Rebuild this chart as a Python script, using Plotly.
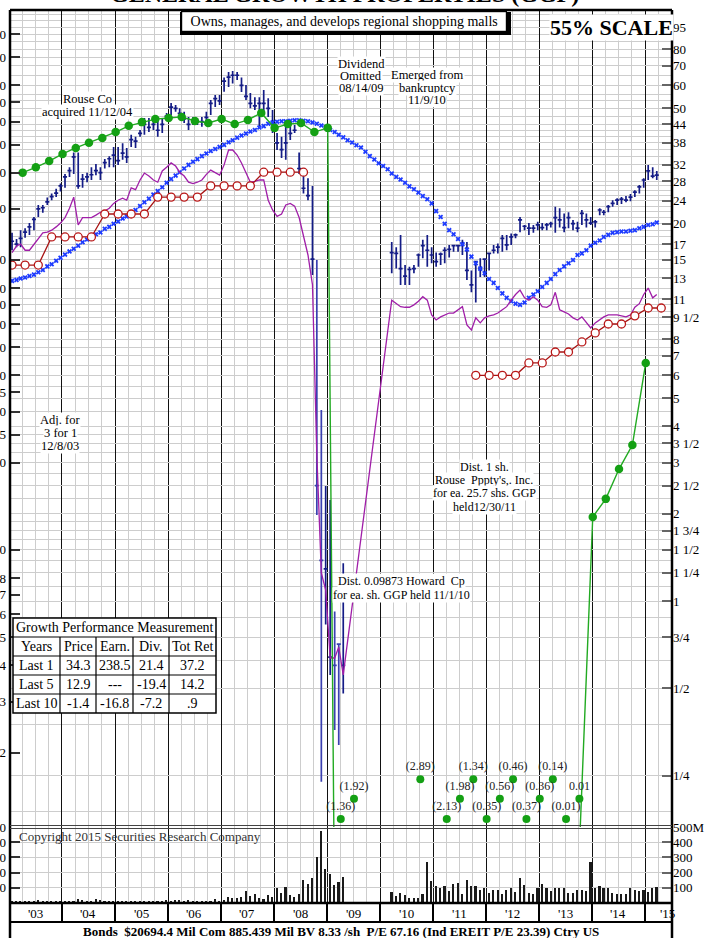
import datetime as dt
import plotly.graph_objects as go

SERIF = "Liberation Serif"

# ---------------- monthly price bars (Jan 2003 .. Mar 2015), None = no trading data shown
PRICE_HIGH = [
    18.6, 17.7, 19.0, 19.3, 20.1, 21.1, 23.2, 23.2, 24.6, 25.4,
    26.4, 27.5, 29.7, 31.3, 35.2, 35.2, 29.7, 30.0, 31.3, 32.1,
    31.3, 33.4, 34.2, 36.8, 36.8, 37.9, 36.5, 40.5, 39.9, 42.1,
    46.3, 46.3, 46.7, 45.6, 46.3, 48.2, 52.1, 51.3, 50.0, 48.6,
    46.7, 46.7, 46.3, 46.7, 48.6, 53.4, 55.6, 55.6, 63.9, 66.7,
    67.2, 66.7, 63.9, 60.1, 56.4, 54.6, 54.6, 57.8, 54.2, 49.3,
    41.1, 39.9, 43.2, 44.5, 43.8, 35.2, 29.7, 28.7, 27.0, 15.0,
    4.56, 2.49, 2.23, 0.92, 0.71, 1.35,
    None, None, None, None, None, None, None, None, None, None,
    17.3, 16.6, 18.3, 14.4, 14.2, 14.4, 15.8, 17.6, 18.3, 16.6,
    15.9, 15.9, 16.6, 16.9, 16.9, 16.9, 17.6, 17.3, 13.8, 14.8,
    15.2, 15.2, 15.9, 16.9, 17.1, 18.3, 18.3, 18.5, 18.5, 21.1,
    19.8, 20.1, 19.8, 20.3, 20.1, 20.1, 20.3, 22.9, 22.6, 21.7,
    21.9, 20.6, 20.3, 22.3, 21.7, 21.1, 20.6, 22.6, 22.3, 23.2,
    24.1, 24.5, 24.7, 24.9, 25.3, 26.1, 27.2, 28.7, 31.9, 31.3, 30.4,
]
PRICE_LOW = [
    16.2, 16.6, 16.6, 17.9, 18.3, 19.0, 21.1, 21.8, 23.2, 24.1,
    24.7, 25.8, 26.6, 29.0, 29.7, 26.4, 26.6, 27.8, 28.3, 29.4,
    28.3, 31.0, 31.3, 31.3, 31.9, 33.2, 32.4, 36.8, 36.5, 39.9,
    40.5, 41.4, 42.1, 39.9, 41.1, 45.6, 47.4, 48.6, 47.4, 44.5,
    42.1, 43.8, 43.8, 43.2, 44.5, 47.4, 50.5, 51.3, 57.0, 59.2,
    60.9, 62.6, 56.9, 53.4, 50.0, 49.3, 43.2, 48.2, 46.7, 41.1,
    35.9, 33.7, 33.2, 38.9, 41.1, 29.7, 25.4, 24.1, 13.3, 1.98,
    0.238, 0.83, 0.556, 0.359, 0.319, 0.48,
    None, None, None, None, None, None, None, None, None, None,
    13.5, 14.0, 12.3, 12.3, 12.3, 13.5, 14.2, 15.2, 14.2, 14.6,
    14.2, 14.4, 14.6, 15.3, 16.0, 16.0, 15.6, 12.8, 11.6, 10.7,
    13.1, 13.1, 13.8, 15.8, 15.8, 16.0, 16.2, 16.9, 17.8, 18.7,
    19.0, 18.3, 18.6, 19.0, 19.0, 19.0, 19.4, 18.6, 19.4, 18.7,
    19.3, 19.0, 18.7, 19.8, 19.4, 19.8, 19.4, 21.4, 21.4, 21.9,
    22.9, 23.2, 23.4, 23.7, 23.9, 24.7, 25.4, 26.6, 28.3, 28.7, 28.3,
]
PRICE_CLOSE = [
    17.4, 17.0, 17.8, 18.7, 19.5, 20.7, 22.5, 22.7, 23.8, 24.8,
    25.5, 27.0, 29.0, 30.5, 34.0, 27.0, 28.5, 29.0, 29.5, 30.5,
    30.0, 32.5, 33.5, 34.5, 33.0, 35.0, 34.0, 39.0, 38.5, 41.0,
    44.0, 43.0, 44.0, 42.0, 44.0, 47.0, 50.5, 50.0, 48.0, 46.0,
    44.0, 45.0, 45.0, 45.0, 46.5, 52.0, 54.0, 53.0, 62.0, 64.0,
    65.0, 65.0, 60.0, 55.0, 52.0, 51.0, 52.0, 52.0, 50.0, 44.0,
    38.0, 36.0, 38.0, 41.0, 42.0, 31.0, 26.5, 25.0, 15.1, 2.5,
    1.38, 1.29, 0.64, 0.60, 0.71, 0.60,
    None, None, None, None, None, None, None, None, None, None,
    15.9, 15.8, 14.0, 13.2, 13.9, 14.0, 15.6, 16.8, 16.2, 15.6,
    14.8, 15.7, 16.2, 16.3, 16.8, 16.8, 17.1, 13.8, 12.3, 14.8,
    14.0, 15.1, 15.8, 16.2, 16.6, 17.8, 16.9, 18.0, 18.3, 20.6,
    19.6, 19.3, 19.3, 19.8, 19.4, 19.8, 20.0, 21.0, 20.6, 19.4,
    21.0, 20.0, 19.3, 21.7, 20.6, 20.1, 20.3, 22.3, 21.9, 22.9,
    23.5, 24.1, 24.3, 24.1, 24.7, 25.7, 26.8, 28.3, 30.4, 29.2, 29.4,
]
# months drawn in the lighter blue during the 2008-09 collapse
LIGHT_BAR_MONTHS = [69, 70, 73, 74]
# monthly moving average (blue x markers)
MOVING_AVG = [
    12.7, 12.8, 12.95, 13.05, 13.2, 13.35, 13.6, 13.85, 14.25, 14.5,
    14.9, 15.25, 15.65, 16.05, 16.4, 16.8, 17.25, 17.65, 18.0, 18.4,
    18.65, 19.2, 19.5, 20.0, 20.35, 20.85, 21.2, 21.8, 22.3, 23.0,
    23.7, 24.4, 25.2, 25.9, 26.7, 27.7, 28.5, 29.3, 30.1, 31.0,
    31.9, 32.7, 33.4, 34.2, 34.9, 35.6, 36.2, 36.8, 37.4, 38.2,
    38.8, 39.6, 40.3, 40.9, 41.6, 42.1, 42.9, 43.4, 44.2, 44.7,
    44.9, 45.1, 45.1, 45.3, 45.5, 45.5, 45.3, 45.1, 44.7, 44.2,
    43.6, 43.1, 42.1, 41.4, 40.5, 39.7, 38.8, 38.1, 37.3, 36.6,
    35.4, 34.2, 33.3, 32.3, 31.6, 30.8, 29.8, 29.0, 28.4, 27.7,
    26.9, 26.3, 25.6, 24.9, 24.3, 23.5, 22.1, 21.1, 20.0, 19.0,
    18.4, 17.7, 17.0, 16.3, 15.4, 14.6, 14.0, 13.5, 12.9, 12.5,
    12.0, 11.5, 11.1, 10.8, 10.6, 10.5, 10.7, 11.1, 11.4, 11.7,
    12.1, 12.5, 12.9, 13.4, 13.85, 14.25, 14.6, 15.0, 15.6, 15.8,
    16.2, 16.8, 17.2, 17.5, 18.0, 18.3, 18.6, 18.7, 18.8, 18.8,
    18.9, 19.0, 19.3, 19.5, 19.8, 19.9, 20.2,
]
# monthly relative strength line (purple)
REL_STRENGTH = [
    15.9, 16.75, 17.0, 16.2, 16.2, 17.0, 17.9, 18.6, 18.7, 19.0,
    19.5, 20.1, 21.0, 22.6, 24.7, 19.8, 21.0, 21.0, 21.0, 21.4,
    21.9, 22.1, 22.6, 23.5, 24.1, 24.5, 24.1, 26.6, 26.2, 28.3,
    29.9, 29.2, 28.3, 27.8, 30.4, 31.3, 32.4, 31.6, 30.1, 29.2,
    27.8, 27.5, 27.8, 28.3, 29.6, 30.6, 29.9, 29.4, 31.9, 35.9,
    35.9, 34.5, 32.4, 30.1, 27.8, 28.0, 28.3, 28.3, 24.1, 22.3,
    21.2, 21.6, 23.2, 23.5, 23.0, 21.0, 17.9, 15.6, 12.3, 3.19,
    1.25, 1.09, 0.636, 0.636, 0.694, 0.556,
    None, None, None, None, None, None, None, None, None, None,
    10.9, 10.65, 10.35, 10.3, 10.3, 10.5, 10.8, 11.2, 10.9, 9.69,
    9.31, 9.54, 9.69, 9.84, 9.84, 10.1, 10.35, 8.95, 8.6, 9.47,
    9.1, 9.47, 9.62, 9.69, 9.84, 10.1, 10.35, 10.9, 11.4, 11.8,
    11.1, 10.9, 11.2, 10.9, 10.35, 10.3, 10.5, 11.6, 10.1, 9.93,
    9.77, 9.47, 9.31, 9.54, 9.1, 8.74, 9.1, 9.31, 9.54, 9.69,
    9.69, 9.69, 9.62, 9.54, 9.69, 10.3, 10.6, 11.4, 12.0, 11.1, 11.4,
]
# monthly volume, millions of shares
VOLUME_M = [
    16, 11, 11, 11, 7, 11, 20, 7, 7, 11,
    7, 7, 7, 7, 11, 29, 20, 11, 11, 24,
    18, 11, 7, 11, 11, 7, 7, 16, 11, 11,
    11, 16, 16, 16, 11, 18, 16, 20, 20, 16,
    20, 11, 16, 11, 11, 16, 29, 16, 20, 38,
    33, 33, 42, 82, 47, 60, 33, 29, 51, 42,
    100, 69, 104, 51, 38, 56, 151, 127, 162, 304,
    471, 222, 189, 116, 140, 171,
    None, None, None, None, None, None, None, None, None, None,
    73, 44, 67, 51, 33, 33, 33, 62, 269, 144,
    111, 100, 111, 78, 122, 129, 58, 151, 111, 111,
    84, 100, 67, 84, 84, 56, 84, 96, 73, 164,
    118, 67, 62, 100, 122, 100, 78, 96, 96, 96,
    67, 67, 84, 84, 78, 267, 96, 111, 102, 102,
    67, 62, 62, 58, 96, 84, 78, 84, 73, 102, 107,
]
# quarterly dividend line (red open circles), Jan 2003 .. Apr 2015
DIVIDEND_LINE = [
    14.4, 14.4, 14.4, 18.0, 18.0, 18.0, 18.0, 21.6, 21.6, 21.6,
    21.6, 24.7, 24.7, 24.7, 24.7, 27.0, 27.0, 27.0, 27.0, 30.1,
    30.1, 30.1, 30.1,
    None, None, None, None, None, None, None, None, None, None, None, None,
    6.0, 6.0, 6.0, 6.0, 6.62, 6.62, 7.22, 7.22, 7.82, 8.40,
    9.02, 9.02, 9.62, 10.24, 10.24,
]
# quarterly earnings line (green dots); values far below the scale plunge off the chart
EARNINGS_LINE = [
    30.0, 31.3, 32.9, 34.8, 36.5, 38.0, 39.5, 41.4, 43.5, 44.8,
    45.9, 46.3, 46.7, 45.2, 44.5, 45.9, 44.1, 45.6, 48.2, 42.8,
    44.1, 44.5, 41.4, 42.8,
    0.0003,
    None, None, None, None, None, None, None, None, None, None,
    None, None, None, None, None, None, None,
    0.14, 1.95, 2.25, 2.85, 3.45, 6.62,
]
# quarterly earnings labels printed near the bottom of the price pane
EARN_LABEL_Q = [24, 25, 30, 32, 33, 34, 35, 36, 37, 38, 39, 40, 41, 42]
EARN_LABEL_TEXT = ["(1.36)", "(1.92)", "(2.89)", "(2.13)", "(1.98)", "(1.34)", "(0.35)",
                   "(0.56)", "(0.46)", "(0.37)", "(0.36)", "(0.14)", "(0.01)", "0.01"]
EARN_LABEL_LEVEL = [0.177, 0.208, 0.243, 0.177, 0.208, 0.243, 0.177,
                    0.208, 0.243, 0.177, 0.208, 0.243, 0.177, 0.208]

RIGHT_TICK_VALS = [95, 80, 70, 60, 50, 44, 38, 32, 28, 24, 20, 17, 15, 13, 11, 9.5, 8, 7, 6,
                   5, 4, 3.5, 3, 2.5, 2, 1.75, 1.5, 1.25, 1, 0.75, 0.5, 0.25]
RIGHT_TICK_TEXT = ["95", "80", "70", "60", "50", "44", "38", "32", "28", "24", "20", "17", "15",
                   "13", "11", "9 1/2", "8", "7", "6", "5", "4", "3 1/2", "3", "2 1/2", "2",
                   "1 3/4", "1 1/2", "1 1/4", "1", "3/4", "1/2", "1/4"]
LEFT_TICK_VALS = [600, 500, 400, 350, 300, 250, 200, 150, 100, 80, 70, 60, 50, 40, 35, 30,
                  25, 20, 10, 8, 7, 6, 5, 4, 3, 2]
GRID_VALS = [105, 100, 95, 90, 85, 80, 75, 70, 65, 60, 56, 53, 50, 47, 44, 42, 40, 38, 36,
             34, 32, 30, 28, 27, 26, 25, 24, 23, 22, 21, 20, 19, 18, 17, 16, 15, 14, 13, 12,
             11, 10.5, 10, 9.5, 9, 8.5, 8, 7.5, 7, 6.5, 6, 5.5, 5, 4.5, 4, 3.75, 3.5, 3.25,
             3, 2.75, 2.5, 2.25, 2, 1.875, 1.75, 1.625, 1.5, 1.375, 1.25, 1.125, 1, 0.875,
             0.75, 0.625, 0.5, 0.375, 0.25, 0.1875]
VOL_TICK_VALS = [100, 200, 300, 400, 500]
VOL_TICK_TEXT_R = ["100", "200", "300", "400", "500M"]
VOL_TICK_TEXT_L = ["100", "200", "300", "400", "500"]
YEAR_LABELS = ["'03", "'04", "'05", "'06", "'07", "'08", "'09", "'10", "'11", "'12",
               "'13", "'14", "'15"]
YEAR_LABEL_DATES = [dt.date(y, 7, 1) for y in range(2003, 2015)] + [dt.date(2015, 6, 7)]
TABLE_TITLE = "Growth Performance Measurement"
TABLE_HEAD = ["Years", "Price", "Earn.", "Div.", "Tot Ret"]
TABLE_ROWS = [["Last 1", "34.3", "238.5", "21.4", "37.2"],
              ["Last 5", "12.9", "---", "-19.4", "14.2"],
              ["Last 10", "-1.4", "-16.8", "-7.2", ".9"]]

for arr in (PRICE_HIGH, PRICE_LOW, PRICE_CLOSE, MOVING_AVG, REL_STRENGTH, VOLUME_M):
    if len(arr) != 147:
        raise ValueError("monthly series length %d" % len(arr))
if len(DIVIDEND_LINE) != 50 or len(EARNINGS_LINE) != 48:
    raise ValueError("quarterly length %d %d" % (len(DIVIDEND_LINE), len(EARNINGS_LINE)))


def month_date(m, day=22):
    return dt.date(2003 + m // 12, m % 12 + 1, day)


MONTHS = [month_date(i) for i in range(147)]
DIV_DATES = [month_date(3 * q) for q in range(len(DIVIDEND_LINE))]
EARN_DATES = [month_date(3 * k + 3, 5) for k in range(len(EARNINGS_LINE))]
LABEL_DATES = [EARN_DATES[k] for k in EARN_LABEL_Q]
YEAR_STARTS = [dt.date(y, 1, 1) for y in range(2004, 2016)]
X_RANGE = ["2003-01-08", "2015-07-05"]
PRICE_LOG_RANGE = [-0.7793, 2.0379]

NAVY = "#141c86"
LIGHT_NAVY = "#3a3fb0"
fig = go.Figure()

# volume
fig.add_trace(go.Bar(x=MONTHS, y=VOLUME_M, xaxis="x2", yaxis="y2",
                     marker=dict(color="#1a1a1a", line=dict(width=0)),
                     width=11 * 86400000, hoverinfo="skip"))
# moving average
fig.add_trace(go.Scatter(x=MONTHS, y=MOVING_AVG, mode="markers", xaxis="x", yaxis="y",
                         marker=dict(symbol="x", size=4.5, color="#1e3cff", line=dict(width=0)),
                         hoverinfo="skip"))
# relative strength
fig.add_trace(go.Scatter(x=MONTHS, y=REL_STRENGTH, mode="lines", connectgaps=True,
                         line=dict(color="#a01ea8", width=1.3), hoverinfo="skip"))
# dividends
fig.add_trace(go.Scatter(x=DIV_DATES, y=DIVIDEND_LINE, mode="lines+markers", connectgaps=False,
                         line=dict(color="#a81414", width=1.3),
                         marker=dict(symbol="circle", size=8, color="white",
                                     line=dict(color="#b81818", width=1.3)),
                         hoverinfo="skip"))
# earnings
fig.add_trace(go.Scatter(x=EARN_DATES, y=EARNINGS_LINE, mode="lines+markers", connectgaps=False,
                         line=dict(color="#22aa22", width=1.4),
                         marker=dict(size=8.5, color="#14a014"), hoverinfo="skip"))
# price bars (two shades)
for light in (False, True):
    idx = [i for i in range(147) if PRICE_HIGH[i] is not None
           and ((i in LIGHT_BAR_MONTHS) == light)]
    col = LIGHT_NAVY if light else NAVY
    fig.add_trace(go.Ohlc(x=[MONTHS[i] for i in idx], open=[PRICE_CLOSE[i] for i in idx],
                          high=[PRICE_HIGH[i] for i in idx], low=[PRICE_LOW[i] for i in idx],
                          close=[PRICE_CLOSE[i] for i in idx], xaxis="x", yaxis="y",
                          increasing=dict(line=dict(color=col, width=1.7)),
                          decreasing=dict(line=dict(color=col, width=1.7)),
                          tickwidth=0.5, hoverinfo="skip"))
# quarterly earnings labels
fig.add_trace(go.Scatter(x=LABEL_DATES, y=EARN_LABEL_LEVEL, mode="markers+text",
                         text=EARN_LABEL_TEXT, textposition="top center",
                         textfont=dict(family=SERIF, size=12, color="#222"),
                         marker=dict(size=8, color="#14a014"), hoverinfo="skip"))
# carriers for the left-hand scales
fig.add_trace(go.Scatter(x=[MONTHS[0]], y=[LEFT_TICK_VALS[0]], xaxis="x", yaxis="y3",
                         mode="markers", marker=dict(opacity=0), hoverinfo="skip"))
fig.add_trace(go.Scatter(x=[MONTHS[0]], y=[VOL_TICK_VALS[0]], xaxis="x2", yaxis="y4",
                         mode="markers", marker=dict(opacity=0), hoverinfo="skip"))


# ---------------- layout helpers (pixel -> paper)
def P(x):
    return (x - 10) / 662.0


def Q(y):
    return (903 - y) / 893.0


VOL_TOP = Q(827)
GRID = "#cdcdcd"
xgrid = dict(type="date", range=X_RANGE, tickmode="array", tickvals=YEAR_STARTS,
             showgrid=True, gridcolor="#111", gridwidth=1.4, zeroline=False, showline=False,
             showticklabels=False, automargin=False,
             minor=dict(tickmode="linear", tick0="2003-01-01", dtick="M3", showgrid=True,
                        gridcolor=GRID, gridwidth=1.3))

annotations = []


def note(x, y, text, size=13, bg=None, xanchor="center", yanchor="middle", color="black", **kw):
    d = dict(x=P(x), y=Q(y), xref="paper", yref="paper", text=text, showarrow=False,
             xanchor=xanchor, yanchor=yanchor, font=dict(family=SERIF, size=size, color=color))
    if bg:
        d["bgcolor"] = bg
        d["borderpad"] = 0
    d.update(kw)
    annotations.append(d)


note(345, 9, "<b>GENERAL GROWTH PROPERTIES (GGP)</b>", size=24, yanchor="bottom")
note(343.5, 21.5, "Owns, manages, and develops regional shopping malls", size=14, bg="white",
     bordercolor="black", borderwidth=1.2, width=322, height=17, borderpad=1)
note(611, 27, "<b>55% SCALE</b>", size=22, bg="white")
for (x, y, t) in [(87, 99, "Rouse Co"), (87, 112, "acquired 11/12/04"),
                  (361, 64, "Dividend"), (361, 76, "Omitted"), (361, 88, "08/14/09"),
                  (427, 75, "Emerged from"), (427, 88, "bankruptcy"), (427, 100, "11/9/10"),
                  (60, 420, "Adj. for"), (60, 433, "3 for 1"), (60, 446, "12/8/03")]:
    note(x, y, t, size=12.5, bg="white")
for (x, y, t) in [(484, 467, "Dist. 1 sh."), (484, 480, "Rouse  Pppty's,. Inc."),
                  (484, 493, "for ea. 25.7 shs. GGP"), (484, 507, "held12/30/11"),
                  (401, 581, "Dist. 0.09873 Howard  Cp"), (401, 595, "for ea. sh. GGP held 11/1/10")]:
    note(x, y, t, size=12, bg="white")
note(17, 836, "Copyright 2015 Securities Research Company", size=13, xanchor="left", color="#333")
note(341, 931, "<b>Bonds  $20694.4 Mil Com 885.439 Mil BV 8.33 /sh  P/E 67.16 (Ind EREIT P/E 23.39) Ctry US</b>",
     size=13)
for d, lab in zip(YEAR_LABEL_DATES, YEAR_LABELS):
    annotations.append(dict(x=d, y=Q(913), xref="x2", yref="paper", text=lab, showarrow=False,
                            xanchor="center", yanchor="middle",
                            font=dict(family=SERIF, size=13, color="black")))

# growth table
COL_X = [13, 60, 96, 133, 169, 216]
ROW_Y = [618, 637, 656, 675, 694, 713]
note((COL_X[0] + COL_X[-1]) / 2, (ROW_Y[0] + ROW_Y[1]) / 2, TABLE_TITLE, size=14)
for r, row in enumerate([TABLE_HEAD] + TABLE_ROWS):
    yc = (ROW_Y[r + 1] + ROW_Y[r + 2]) / 2
    for c, cell in enumerate(row):
        note((COL_X[c] + COL_X[c + 1]) / 2, yc, cell, size=14)

shapes = []


def line(x0, y0, x1, y1, width=1.2, color="black"):
    shapes.append(dict(type="line", xref="paper", yref="paper", x0=P(x0), y0=Q(y0),
                       x1=P(x1), y1=Q(y1), line=dict(color=color, width=width)))


# header box shadow
shapes.append(dict(type="rect", xref="paper", yref="paper", x0=P(180), y0=Q(35), x1=P(511),
                   y1=Q(12), fillcolor="black", line=dict(width=0)))
# table
shapes.append(dict(type="rect", xref="paper", yref="paper", x0=P(COL_X[0]), y0=Q(ROW_Y[-1]),
                   x1=P(COL_X[-1]), y1=Q(ROW_Y[0]), fillcolor="white",
                   line=dict(color="black", width=1.5)))
for yy in ROW_Y[1:-1]:
    line(COL_X[0], yy, COL_X[-1], yy)
for xx in COL_X[1:-1]:
    line(xx, ROW_Y[1], xx, ROW_Y[-1])
# frame
line(10, 10, 672, 10, 2.5)
line(10, 10, 10, 940, 2.5)
line(672, 10, 672, 940, 2.5)
line(10, 825.5, 672, 825.5, 1.2, "#444")
line(10, 828.5, 672, 828.5, 1.2, "#444")
line(10, 903, 672, 903, 2.5)
line(10, 922, 672, 922, 2)

ycommon = dict(automargin=False, zeroline=False, showline=False, tickfont=dict(size=13))
fig.update_layout(
    width=722, height=938,
    margin=dict(l=10, r=50, t=10, b=35, autoexpand=False),
    paper_bgcolor="white", plot_bgcolor="white", showlegend=False, bargap=0,
    font=dict(family=SERIF, size=13, color="black"),
    xaxis=dict(xgrid, anchor="y", ticks="", rangeslider=dict(visible=False)),
    xaxis2=dict(xgrid, anchor="y2", matches="x", ticks="outside", ticklen=19,
                tickwidth=1.5, tickcolor="black"),
    yaxis=dict(ycommon, domain=[VOL_TOP, 1], anchor="x", side="right", type="log",
               range=PRICE_LOG_RANGE, tickmode="array", tickvals=RIGHT_TICK_VALS,
               ticktext=RIGHT_TICK_TEXT, ticks="inside", ticklen=10, tickwidth=1.5,
               tickcolor="#666", showgrid=True, gridcolor=GRID, gridwidth=1.3,
               minor=dict(tickmode="array", tickvals=GRID_VALS, showgrid=True,
                          gridcolor=GRID, gridwidth=1.3)),
    yaxis3=dict(ycommon, overlaying="y", anchor="x", side="left", type="log",
                range=[PRICE_LOG_RANGE[0] + 0.8239, PRICE_LOG_RANGE[1] + 0.8239],
                tickmode="array", tickvals=LEFT_TICK_VALS,
                ticktext=[str(v) for v in LEFT_TICK_VALS], ticks="inside", ticklen=10,
                tickwidth=1.5, tickcolor="#333", showgrid=False, ticklabelstandoff=3),
    yaxis2=dict(ycommon, domain=[0, VOL_TOP], anchor="x2", side="right", range=[0, 500],
                tickmode="array", tickvals=VOL_TICK_VALS, ticktext=VOL_TICK_TEXT_R,
                ticks="inside", ticklen=10, tickwidth=1.5, tickcolor="#666",
                showgrid=True, gridcolor=GRID, gridwidth=1.3),
    yaxis4=dict(ycommon, overlaying="y2", anchor="x2", side="left", range=[0, 500],
                tickmode="array", tickvals=VOL_TICK_VALS, ticktext=VOL_TICK_TEXT_L,
                ticks="inside", ticklen=10, tickwidth=1.5, tickcolor="#333",
                showgrid=False, ticklabelstandoff=3),
    annotations=annotations,
    shapes=shapes,
)

fig.write_html("out.html", config={"displayModeBar": False},
               post_script="document.body.style.margin='0px';")
